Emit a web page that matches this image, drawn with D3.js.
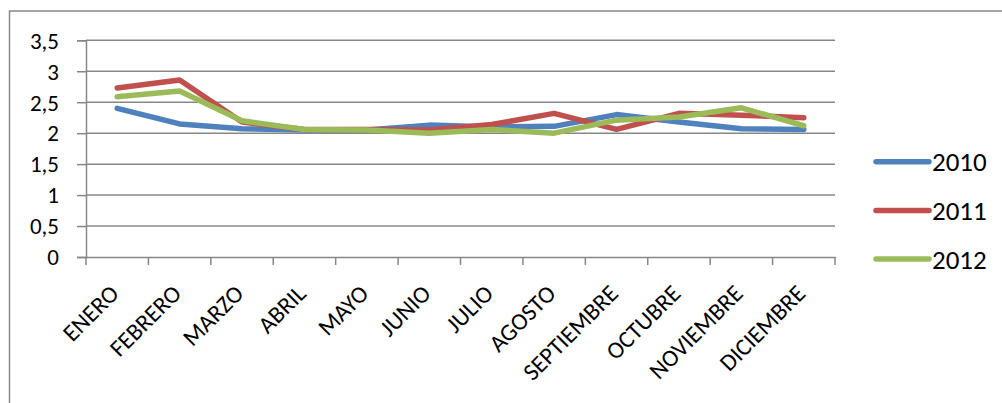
<!DOCTYPE html>
<html>
<head>
<meta charset="utf-8">
<script src="https://cdn.jsdelivr.net/npm/d3@7"></script>
<style>
  body { margin: 0; background: #fff; }
  svg text { font-family: Carlito, Calibri, "Noto Sans", sans-serif; fill: #000; }
</style>
</head>
<body>
<svg width="1002" height="403"></svg>
<script>
// categories and series values
var months = ["ENERO", "FEBRERO", "MARZO", "ABRIL", "MAYO", "JUNIO", "JULIO",
              "AGOSTO", "SEPTIEMBRE", "OCTUBRE", "NOVIEMBRE", "DICIEMBRE"];
var years = ["2010", "2011", "2012"];
var v2010 = [2.40, 2.15, 2.07, 2.05, 2.05, 2.13, 2.10, 2.11, 2.30, 2.18, 2.07, 2.06];
var v2011 = [2.73, 2.86, 2.18, 2.06, 2.06, 2.05, 2.14, 2.32, 2.06, 2.32, 2.29, 2.25];
var v2012 = [2.59, 2.68, 2.20, 2.06, 2.05, 2.00, 2.06, 2.00, 2.21, 2.26, 2.41, 2.12];
var yTicks = [0, 0.5, 1, 1.5, 2, 2.5, 3, 3.5];
var colors = ["#4f81bd", "#c0504d", "#9bbb59"];

var series = [v2010, v2011, v2012];
var svg = d3.select("svg");
var grey = "#878787";

// outer frame (right and bottom fall outside the picture)
svg.append("rect")
  .attr("x", 9.5).attr("y", 11)
  .attr("width", 1100).attr("height", 500)
  .attr("fill", "none").attr("stroke", grey).attr("stroke-width", 1.5);

var x = d3.scaleBand().domain(months).range([86, 835]);
var y = d3.scaleLinear().domain([0, 3.5]).range([257, 40.3]);

// gridlines + y ticks
var yAxis = svg.append("g").attr("transform", "translate(86,0)")
  .call(d3.axisLeft(y).tickValues(yTicks).tickSize(9).tickPadding(18)
    .tickFormat(function(d) { return String(d).replace(".", ","); }));
yAxis.select(".domain").attr("stroke", grey).attr("stroke-width", 1.5);
yAxis.selectAll("line").attr("stroke", grey).attr("stroke-width", 1.5);
yAxis.selectAll("text").style("font-size", "23px").attr("dy", "0.34em");

svg.append("g").selectAll("line").data(yTicks.filter(function(d) { return d > 0; }))
  .enter().append("line")
  .attr("x1", 86).attr("x2", 835)
  .attr("y1", function(d) { return y(d); }).attr("y2", function(d) { return y(d); })
  .attr("stroke", grey).attr("stroke-width", 1.5);

// x axis
var xAxis = svg.append("g").attr("transform", "translate(0," + y(0) + ")")
  .call(d3.axisBottom(x).tickSize(0).tickFormat(""));
xAxis.select(".domain").attr("stroke", grey).attr("stroke-width", 1.5);
svg.append("g").selectAll("line").data(d3.range(months.length + 1))
  .enter().append("line")
  .attr("x1", function(i) { return 86 + i * x.step(); })
  .attr("x2", function(i) { return 86 + i * x.step(); })
  .attr("y1", y(0)).attr("y2", y(0) + 8)
  .attr("stroke", grey).attr("stroke-width", 1.5);

svg.append("g").selectAll("text").data(months)
  .enter().append("text")
  .attr("text-anchor", "end")
  .style("font-size", "24px")
  .attr("transform", function(d) {
    return "translate(" + (x(d) + x.bandwidth() / 2 + 3) + ",295) rotate(-45)";
  })
  .text(function(d) { return d; });

// lines
var line = d3.line()
  .x(function(d, i) { return x(months[i]) + x.bandwidth() / 2; })
  .y(function(d) { return y(d); });

svg.append("g").selectAll("path").data(series)
  .enter().append("path")
  .attr("d", line)
  .attr("fill", "none")
  .attr("stroke", function(d, i) { return colors[i]; })
  .attr("stroke-width", 5.5)
  .attr("stroke-linejoin", "round")
  .attr("stroke-linecap", "round");

// legend
var leg = svg.append("g").selectAll("g").data(years)
  .enter().append("g")
  .attr("transform", function(d, i) { return "translate(0," + (161.7 + i * 48.7) + ")"; });
leg.append("line")
  .attr("x1", 876).attr("x2", 929)
  .attr("stroke", function(d, i) { return colors[i]; })
  .attr("stroke-width", 5.5).attr("stroke-linecap", "round");
leg.append("text")
  .attr("x", 932).attr("y", 9.5)
  .style("font-size", "27px")
  .text(function(d) { return d; });
</script>
</body>
</html>
